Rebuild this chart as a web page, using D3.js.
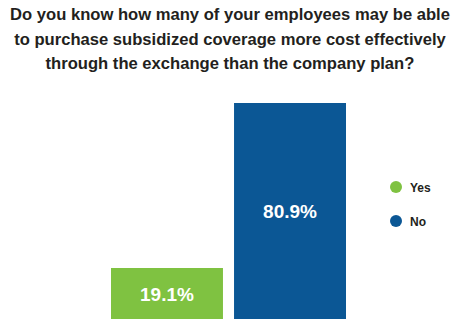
<!DOCTYPE html>
<html>
<head>
<meta charset="utf-8">
<script src="https://cdn.jsdelivr.net/npm/d3@7"></script>
<style>
  body { margin: 0; background: #fff; }
  svg { display: block; }
</style>
</head>
<body>
<svg id="chart" width="461" height="327"></svg>
<script>
var titleLines = ["Do you know how many of your employees may be able",
                  "to purchase subsidized coverage more cost effectively",
                  "through the exchange than the company plan?"];
var categories = ["Yes", "No"];
var values = [19.1, 80.9];
var colors = ["#7fc241", "#0b5795"];

var svg = d3.select("#chart");
var font = "'Liberation Sans', Arial, sans-serif";

// title
svg.append("g").selectAll("text")
  .data(titleLines)
  .enter().append("text")
  .attr("x", 230)
  .attr("y", function(d, i) { return 20 + i * 24.5; })
  .attr("text-anchor", "middle")
  .attr("font-family", font)
  .attr("font-weight", "bold")
  .attr("font-size", 16.6)
  .attr("fill", "#231f20")
  .text(function(d) { return d; });

var x = d3.scaleBand().domain(categories).range([111, 346]).paddingInner(0.09).paddingOuter(0);
var y = d3.scaleLinear().domain([0, 80.9]).range([319, 103]);
var color = d3.scaleOrdinal().domain(categories).range(colors);

var bars = svg.append("g").selectAll("g")
  .data(categories)
  .enter().append("g");

bars.append("rect")
  .attr("x", function(d) { return x(d); })
  .attr("y", function(d, i) { return y(values[i]); })
  .attr("width", x.bandwidth())
  .attr("height", function(d, i) { return y(0) - y(values[i]); })
  .attr("fill", function(d) { return color(d); });

bars.append("text")
  .attr("x", function(d) { return x(d) + x.bandwidth() / 2; })
  .attr("y", function(d, i) { return (y(values[i]) + y(0)) / 2 + 7; })
  .attr("text-anchor", "middle")
  .attr("font-family", font)
  .attr("font-weight", "bold")
  .attr("font-size", 19)
  .attr("fill", "#fff")
  .text(function(d, i) { return values[i].toFixed(1) + "%"; });

// legend
var legend = svg.append("g").selectAll("g")
  .data(categories)
  .enter().append("g")
  .attr("transform", function(d, i) { return "translate(396," + (187 + i * 34) + ")"; });

legend.append("circle")
  .attr("r", 6)
  .attr("fill", function(d) { return color(d); });

legend.append("text")
  .attr("x", 14)
  .attr("y", 4.5)
  .attr("font-family", font)
  .attr("font-weight", "bold")
  .attr("font-size", 12)
  .attr("fill", "#231f20")
  .text(function(d) { return d; });
</script>
</body>
</html>
